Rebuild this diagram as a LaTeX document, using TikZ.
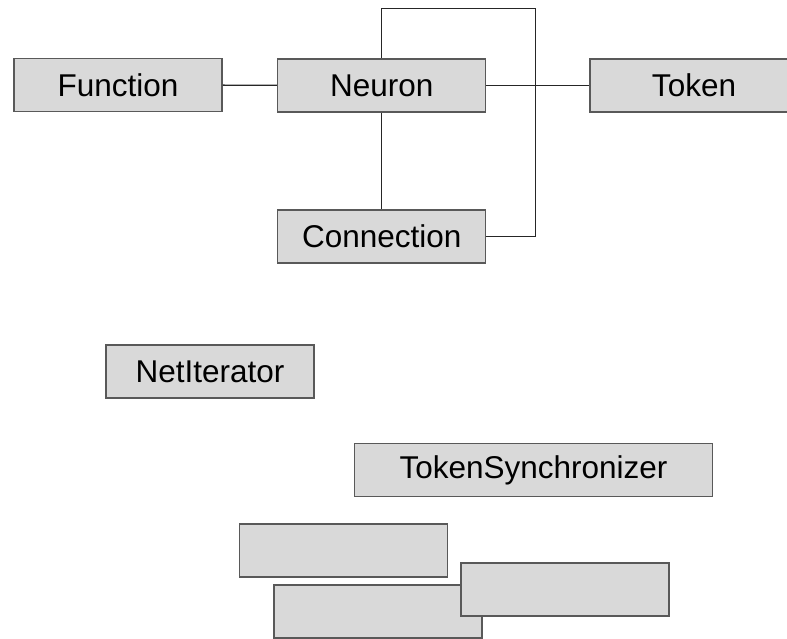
\documentclass[tikz,border=0pt]{standalone}
\usepackage{fontspec}
\setmainfont{Liberation Sans}
\usetikzlibrary{positioning}
\definecolor{boxfill}{HTML}{D9D9D9}
\definecolor{boxline}{HTML}{595959}
\definecolor{wireline}{HTML}{262626}
\tikzset{
    cls/.style={draw=boxline, fill=boxfill, line width=1.5pt, rectangle,
        minimum width=208pt, minimum height=53pt, inner sep=0pt,
        font=\fontsize{31.5}{36}\selectfont},
    wire/.style={draw=wireline, line width=1.4pt}
}
\begin{document}
\begin{tikzpicture}[x=1pt, y=-1pt]
    \useasboundingbox (0,0) rectangle (787,639);
    % upper group
    \node[cls] (function) at (118, 85) {Function};
    \node[cls] (neuron) at (381.7, 85.5) {Neuron};
    \node[cls] (token) at (694, 85.5) {Token};
    \node[cls] (connection) at (381.7, 236.4) {Connection};
    \coordinate (loopa) at (381.7, 8.3);
    \coordinate (loopb) at (535.7, 8.3);
    \draw[wire] (function) -- (neuron);
    \draw[wire] (neuron) -- (token);
    \draw[wire] (neuron) -- (connection);
    \draw[wire] (neuron.north) -- (loopa) -- (loopb) |- (connection.east);
    % lower group
    \node[cls] (netiterator) at (210, 371.5) {NetIterator};
    \node[cls, minimum width=358.4pt] (tokensync) at (533.5, 470) {TokenSynchronizer};
    \node[cls] (blanka) at (343.5, 550.5) {};
    \node[cls] (blankb) at (378, 611.7) {};
    \node[cls] (blankc) at (565, 589.7) {};
\end{tikzpicture}
\end{document}
